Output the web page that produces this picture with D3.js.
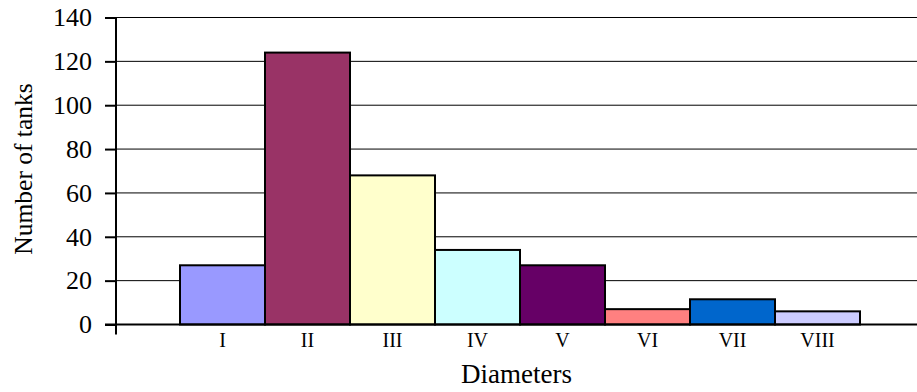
<!DOCTYPE html>
<html>
<head>
<meta charset="utf-8">
<script src="https://cdn.jsdelivr.net/npm/d3@7"></script>
<style>
  body { margin: 0; background: #fff; }
  svg { display: block; }
  svg text { font-family: "Liberation Serif", "Times New Roman", Times, serif !important; fill: #000; }
</style>
</head>
<body>
<svg id="chart"></svg>
<script>
// chart data
var categories = ["I", "II", "III", "IV", "V", "VI", "VII", "VIII"];
var tanks = [27, 124, 68, 34, 27, 7, 11.5, 6];
var barColors = ["#9999FF", "#993366", "#FFFFCC", "#CCFFFF", "#660066", "#FF8080", "#0066CC", "#CCCCFF"];
var yTicks = [0, 20, 40, 60, 80, 100, 120, 140];

var svgWidth = 917, svgHeight = 392;
var axisLeft = 116, axisRight = 917;

var svg = d3.select("#chart")
  .attr("width", svgWidth)
  .attr("height", svgHeight);

var x = d3.scaleBand()
  .domain(categories)
  .range([180, 860])
  .padding(0);

var y = d3.scaleLinear()
  .domain([0, 140])
  .range([324.5, 17.5]);

// gridlines
svg.append("g")
  .selectAll("line")
  .data(yTicks.slice(1))
  .enter().append("line")
  .attr("x1", axisLeft)
  .attr("x2", axisRight)
  .attr("y1", function (d) { return y(d) })
  .attr("y2", function (d) { return y(d) })
  .attr("stroke", "#000")
  .attr("stroke-width", 1);

// bars
svg.append("g")
  .selectAll("rect")
  .data(tanks)
  .enter().append("rect")
  .attr("x", function (d, i) { return x(categories[i]) })
  .attr("y", function (d) { return y(d) })
  .attr("width", x.bandwidth())
  .attr("height", function (d) { return y(0) - y(d) })
  .attr("fill", function (d, i) { return barColors[i] })
  .attr("stroke", "#000")
  .attr("stroke-width", 2);

// y axis
var yAxis = svg.append("g")
  .attr("transform", "translate(" + axisLeft + ",0)")
  .call(d3.axisLeft(y).tickValues(yTicks).tickSize(11).tickPadding(13));
yAxis.select(".domain").attr("stroke-width", 2).attr("d", "M0," + y(140) + "V" + (y(0) + 10));
yAxis.selectAll(".tick line").attr("stroke-width", 2);
yAxis.selectAll("text")
  .attr("font-size", 26);

// x axis
var xAxis = svg.append("g")
  .attr("transform", "translate(0," + y(0) + ")")
  .call(d3.axisBottom(x).tickSize(0).tickPadding(8));
xAxis.select(".domain")
  .attr("stroke-width", 2)
  .attr("d", "M" + (axisLeft - 11) + ",0H" + axisRight);
xAxis.selectAll("text")
  .attr("font-size", 20);

// axis titles
svg.append("text")
  .attr("x", (axisLeft + axisRight) / 2)
  .attr("y", 383)
  .attr("text-anchor", "middle")
  .attr("font-size", 27)
  .text("Diameters");

svg.append("text")
  .attr("transform", "translate(32,169) rotate(-90)")
  .attr("text-anchor", "middle")
  .attr("font-size", 25.5)
  .text("Number of tanks");
</script>
</body>
</html>
